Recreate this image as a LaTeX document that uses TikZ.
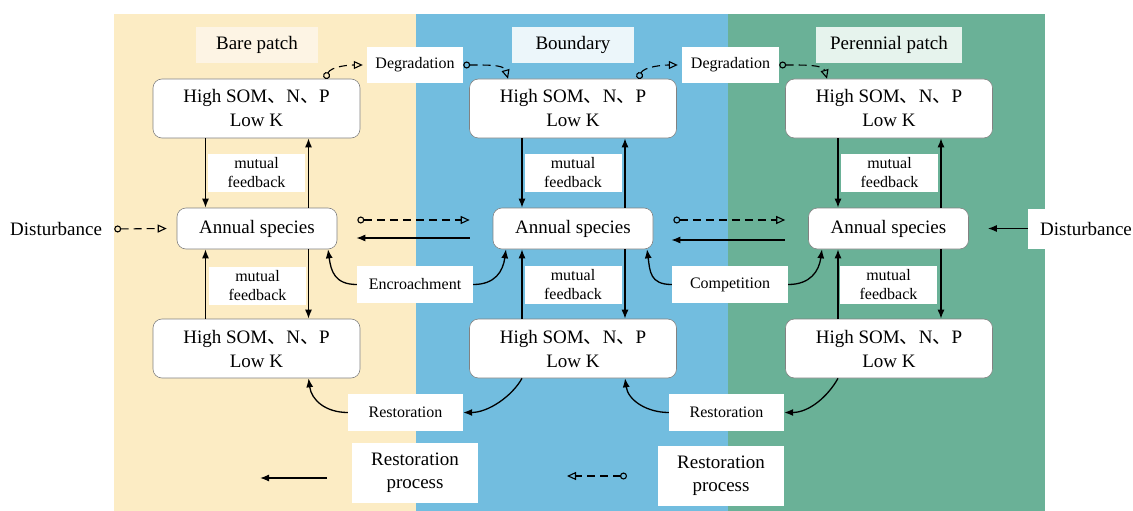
\documentclass[tikz,border=0pt]{standalone}
\usepackage{fontspec}
\setmainfont{Liberation Serif}
\newfontfamily\cjk{Noto Sans CJK SC}
\usetikzlibrary{arrows.meta}
\definecolor{ybg}{RGB}{252,236,196}
\definecolor{bbg}{RGB}{114,189,223}
\definecolor{gbg}{RGB}{106,177,151}
\definecolor{ytitle}{RGB}{253,244,228}
\definecolor{btitle}{RGB}{236,246,250}
\definecolor{gtitle}{RGB}{230,243,237}
\definecolor{boxline}{RGB}{130,130,130}
\newcommand{\cjkc}{{\cjk 、}}
\begin{document}
\begin{tikzpicture}[x=1pt,y=-1pt,
  soil/.style={draw=boxline,line width=0.6pt,fill=white,rounded corners=9pt,minimum width=207pt,minimum height=59pt,align=center,font=\fontsize{19}{24}\selectfont,inner sep=0pt},
  annual/.style={draw=boxline,line width=0.6pt,fill=white,rounded corners=9pt,minimum width=160pt,minimum height=41pt,font=\fontsize{19}{23}\selectfont,inner sep=0pt},
  lab/.style={fill=white,inner sep=0pt,align=center,font=\fontsize{16}{19}\selectfont},
  ttl/.style={inner sep=0pt,minimum height=36pt,font=\fontsize{19}{23}\selectfont},
  big/.style={fill=white,inner sep=0pt,align=center,font=\fontsize{19}{23}\selectfont},
  arr/.style={line width=1.3pt,-{Latex[length=9pt,width=7pt]}},
  darr/.style={line width=1.1pt,dash pattern=on 8pt off 5pt,{Circle[open,length=7pt,width=7pt]}-{Triangle[open,length=9pt,width=8pt]}},
]
\useasboundingbox (0,0) rectangle (1133,511);
\clip (0,0) rectangle (1133,511);
\fill[white] (0,0) rectangle (1133,511);
\fill[ybg] (114,14) rectangle (416,511);
\fill[bbg] (416,14) rectangle (728,511);
\fill[gbg] (728,14) rectangle (1045,511);

% titles
\node[ttl,fill=ytitle,minimum width=122pt] (tbare) at (257,45) {Bare patch};
\node[ttl,fill=btitle,minimum width=122pt] (tbound) at (573,45) {Boundary};
\node[ttl,fill=gtitle,minimum width=146pt] (tper) at (889,45) {Perennial patch};

% soil boxes
\node[soil] (tl) at (256.5,108.5) {High SOM\cjkc N\cjkc P\\Low K};
\node[soil] (tm) at (573,108.5) {High SOM\cjkc N\cjkc P\\Low K};
\node[soil] (tr) at (889,108.5) {High SOM\cjkc N\cjkc P\\Low K};
\node[soil] (bl) at (256.5,348.5) {High SOM\cjkc N\cjkc P\\Low K};
\node[soil] (bm) at (573,348.5) {High SOM\cjkc N\cjkc P\\Low K};
\node[soil] (br) at (889,348.5) {High SOM\cjkc N\cjkc P\\Low K};

% annual species
\node[annual] (al) at (257,228.5) {Annual species};
\node[annual] (am) at (573,228.5) {Annual species};
\node[annual] (ar) at (888.5,228.5) {Annual species};

% vertical feedback arrows
\foreach \t/\a/\b in {tl/al/bl, tm/am/bm, tr/ar/br} {
  \draw[arr] ([xshift=-51pt]\t.south) -- ([xshift=-51pt]\t.south |- \a.north);
  \draw[arr] ([xshift=52pt]\t.south |- \a.north) -- ([xshift=52pt]\t.south);
  \draw[arr] ([xshift=-51pt]\b.north) -- ([xshift=-51pt]\b.north |- \a.south);
  \draw[arr] ([xshift=52pt]\b.north |- \a.south) -- ([xshift=52pt]\b.north);
}

% mutual feedback labels
\node[lab,minimum width=97pt,minimum height=38pt] (mtl) at (256.5,173) {mutual\\feedback};
\node[lab,minimum width=97pt,minimum height=38pt] (mtm) at (573,173) {mutual\\feedback};
\node[lab,minimum width=97pt,minimum height=38pt] (mtr) at (889.5,173) {mutual\\feedback};
\node[lab,minimum width=97pt,minimum height=38pt] (mbl) at (257.5,285.5) {mutual\\feedback};
\node[lab,minimum width=97pt,minimum height=38pt] (mbm) at (573,285) {mutual\\feedback};
\node[lab,minimum width=97pt,minimum height=38pt] (mbr) at (888.5,285) {mutual\\feedback};

% degradation
\node[lab,minimum width=96pt,minimum height=36pt] (degl) at (415,65) {Degradation};
\node[lab,minimum width=97pt,minimum height=36pt] (degr) at (730.5,65) {Degradation};
\draw[darr] ([xshift=68.5pt]tl.north) .. controls +(6,-12) and +(-15,0) .. ([xshift=-4pt]degl.west);
\draw[darr] (degl.east) .. controls +(25,0) and +(-4,-14) .. ([xshift=-65pt]tm.north);
\draw[darr] ([xshift=65pt]tm.north) .. controls +(6,-12) and +(-15,0) .. ([xshift=-4pt]degr.west);
\draw[darr] (degr.east) .. controls +(25,0) and +(-4,-14) .. ([xshift=-62pt]tr.north);

% encroachment / competition
\node[lab,minimum width=116pt,minimum height=37pt] (enc) at (415,284.5) {Encroachment};
\node[lab,minimum width=116pt,minimum height=37pt] (comp) at (730,284.5) {Competition};
\draw[arr] (enc.west) .. controls +(-22,0) and +(3,22) .. ([xshift=71pt]al.south);
\draw[arr] (enc.east) .. controls +(22,0) and +(-3,22) .. ([xshift=-67pt]am.south);
\draw[arr] (comp.west) .. controls +(-22,0) and +(3,22) .. ([xshift=74pt]am.south);
\draw[arr] (comp.east) .. controls +(22,0) and +(-3,22) .. ([xshift=-66.5pt]ar.south);

% restoration
\node[lab,minimum width=115pt,minimum height=37pt] (resl) at (405.5,412.5) {Restoration};
\node[lab,minimum width=115pt,minimum height=37pt] (resr) at (726.5,412.5) {Restoration};
\draw[arr] (resl.west) .. controls +(-22,0) and +(3,22) .. ([xshift=52pt]bl.south);
\draw[arr] ([xshift=-51pt]bm.south) .. controls +(-10,18) and +(25,0) .. (resl.east);
\draw[arr] (resr.west) .. controls +(-22,0) and +(3,22) .. ([xshift=52pt]bm.south);
\draw[arr] ([xshift=-51pt]br.south) .. controls +(-10,18) and +(25,0) .. (resr.east);

% inter-column arrows
\draw[darr] ([shift={(20,-8.5)}]al.east) -- ([shift={(-23,-8.5)}]am.west);
\draw[arr] ([shift={(-23,9.5)}]am.west) -- ([shift={(19,9.5)}]al.east);
\draw[darr] ([shift={(20,-8.5)}]am.east) -- ([shift={(-23,-8.5)}]ar.west);
\draw[arr] ([shift={(-23,11.5)}]ar.west) -- ([shift={(18,11.5)}]am.east);

% disturbance
\node[inner sep=0pt,font=\fontsize{19}{23}\selectfont,anchor=west] (distl) at (10,229) {Disturbance};
\draw[darr] ([xshift=12pt]distl.east) -- ([xshift=-10pt]al.west);
\node[big,minimum width=116pt,minimum height=40pt] (distr) at (1086,228.5) {Disturbance};
\draw[arr] (distr.west) -- ([xshift=19pt]ar.east);

% restoration process legend
\node[big,minimum width=126pt,minimum height=60pt] (rpl) at (415,473) {Restoration\\process};
\node[big,minimum width=126pt,minimum height=60pt] (rpr) at (721,476) {Restoration\\process};
\coordinate (sa) at (327,478);
\coordinate (sb) at (260,478);
\draw[arr] (sa) -- (sb);
\coordinate (da) at (627,476);
\coordinate (db) at (567,476);
\draw[darr] (da) -- (db);
\end{tikzpicture}
\end{document}
